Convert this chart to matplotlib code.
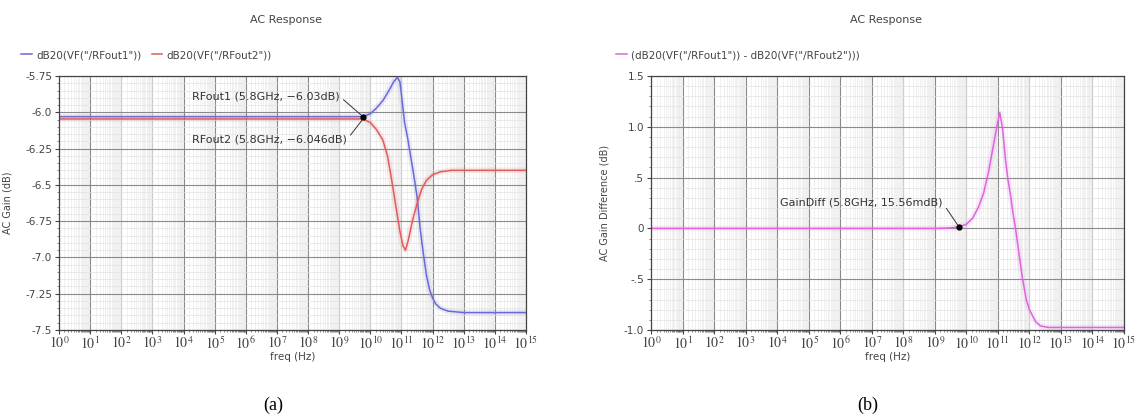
import numpy as np
import matplotlib
matplotlib.use('Agg')
import matplotlib.pyplot as plt
from matplotlib.ticker import FixedLocator, FixedFormatter, MultipleLocator, NullFormatter

plt.rcParams['font.family'] = ['DejaVu Sans']
plt.rcParams['mathtext.fontset'] = 'stix'

# ---- data (x given as log10 of frequency) ----
rf1_logf = [0, 9.0, 9.5, 9.76, 10.0, 10.2, 10.4, 10.6, 10.75, 10.87, 10.95, 11.0,
            11.1, 11.2, 11.3, 11.4, 11.5, 11.6, 11.7, 11.8, 11.9, 12.0, 12.1,
            12.25, 12.5, 13.0, 15.0]
rf1_db = [-6.03, -6.03, -6.03, -6.03, -6.01, -5.97, -5.92, -5.85, -5.79, -5.76, -5.79, -5.88,
          -6.07, -6.18, -6.31, -6.44, -6.58, -6.8, -6.97, -7.12, -7.22, -7.28, -7.32,
          -7.35, -7.37, -7.38, -7.38]

rf2_logf = [0, 9.5, 9.76, 10.0, 10.2, 10.4, 10.55, 10.65, 10.8, 10.95, 11.05, 11.13,
            11.22, 11.35, 11.5, 11.65, 11.8, 12.0, 12.25, 12.6, 15.0]
rf2_db = [-6.046, -6.046, -6.046, -6.07, -6.12, -6.19, -6.3, -6.42, -6.62, -6.82, -6.92, -6.95,
          -6.88, -6.75, -6.63, -6.53, -6.47, -6.43, -6.41, -6.40, -6.40]

diff_logf = [0, 9.0, 9.5, 9.76, 10.0, 10.2, 10.4, 10.55, 10.7, 10.86, 10.98, 11.06,
             11.15, 11.24, 11.32, 11.4, 11.48, 11.56, 11.67, 11.78, 11.9, 12.0, 12.1,
             12.2, 12.35, 12.6, 13.0, 15.0]
diff_db = [0.0, 0.0, 0.005, 0.0156, 0.04, 0.1, 0.22, 0.35, 0.55, 0.82, 1.02, 1.14,
           0.98, 0.68, 0.48, 0.33, 0.15, 0.0, -0.25, -0.49, -0.7, -0.8, -0.86,
           -0.92, -0.96, -0.975, -0.975, -0.975]

marker_f = 5.8e9
rf1_mark = -6.03
rf2_mark = -6.046
diff_mark = 0.01556

decades = np.arange(0, 16)
xtick_labels = [r'$10^{%d}$' % d for d in decades]
left_yticks = [-5.75, -6.0, -6.25, -6.5, -6.75, -7.0, -7.25, -7.5]
left_ylabels = ['-5.75', '-6.0', '-6.25', '-6.5', '-6.75', '-7.0', '-7.25', '-7.5']
right_yticks = [1.5, 1.0, 0.5, 0.0, -0.5, -1.0]
right_ylabels = ['1.5', '1.0', '.5', '0', '-.5', '-1.0']

W, H = 1141, 416
fig = plt.figure(figsize=(W / 100, H / 100), dpi=100)
TXT = '#444444'


def px_axes(x0, x1, ytop, ybot):
    return fig.add_axes([x0 / W, 1 - ybot / H, (x1 - x0) / W, (ybot - ytop) / H])


def style_axes(ax, yticks, ylabels, yminor):
    ax.set_xscale('log')
    ax.set_xlim(1, 1e15)
    ax.set_ylim(min(yticks), max(yticks))
    ax.xaxis.set_major_locator(FixedLocator(10.0 ** decades))
    ax.xaxis.set_major_formatter(FixedFormatter(xtick_labels))
    minor = [10.0 ** d * s for d in decades[:-1] for s in np.arange(1.5, 10, 0.5)]
    ax.xaxis.set_minor_locator(FixedLocator(minor))
    ax.xaxis.set_minor_formatter(NullFormatter())
    ax.yaxis.set_major_locator(FixedLocator(yticks))
    ax.yaxis.set_major_formatter(FixedFormatter(ylabels))
    ax.yaxis.set_minor_locator(MultipleLocator(yminor))
    ax.yaxis.set_minor_formatter(NullFormatter())
    ax.set_axisbelow(True)
    ax.grid(which='major', color='#8a8a8a', lw=0.8)
    ax.grid(which='minor', axis='x', color='#ebebeb', lw=0.5)
    ax.grid(which='minor', axis='y', color='#e2e2e2', lw=0.5)
    ax.tick_params(which='major', direction='out', length=3, width=0.8,
                   colors=TXT, labelsize=7.5, pad=2)
    ax.tick_params(which='minor', direction='out', length=1.5, width=0.5, colors='#555555')
    ax.tick_params(axis='x', which='major', labelsize=10, pad=1)
    for s in ax.spines.values():
        s.set_color(TXT)
        s.set_linewidth(0.9)
    ax.set_xlabel('freq (Hz)', fontsize=7.5, color=TXT, labelpad=0)


def curve(ax, logf, vals, color, label):
    f = 10.0 ** np.array(logf)
    ax.plot(f, vals, color=color, lw=4, alpha=0.13, solid_capstyle='butt')
    return ax.plot(f, vals, color=color, lw=1.1, label=label)[0]


# ---- (a) ----
ax1 = px_axes(59, 526, 76, 330)
style_axes(ax1, left_yticks, left_ylabels, 0.05)
l1 = curve(ax1, rf1_logf, rf1_db, '#6a6ad6', 'dB20(VF("/RFout1"))')
l2 = curve(ax1, rf2_logf, rf2_db, '#e05c5c', 'dB20(VF("/RFout2"))')
ax1.plot(marker_f, rf1_mark, 'o', color='k', ms=3.5, zorder=6)
ax1.set_ylabel('AC Gain (dB)', fontsize=7, color=TXT)
ax1.yaxis.set_label_coords(-0.1, 0.5)
arrow = dict(arrowstyle='-', color='#333333', lw=0.7, shrinkA=1, shrinkB=1, relpos=(1, 0.5))
ax1.annotate('RFout1 (5.8GHz, \u22126.03dB)', xy=(marker_f, rf1_mark),
             xytext=(10 ** 4.27, -5.89), fontsize=8, color='#333333',
             va='center', ha='left', arrowprops=arrow)
ax1.annotate('RFout2 (5.8GHz, \u22126.046dB)', xy=(marker_f, rf2_mark),
             xytext=(10 ** 4.27, -6.19), fontsize=8, color='#333333',
             va='center', ha='left', arrowprops=arrow)
fig.legend(handles=[l1, l2], loc='center left', bbox_to_anchor=(12 / W, 1 - 55 / H),
           ncol=2, frameon=False, fontsize=7.5, handlelength=1.0, handletextpad=0.4,
           columnspacing=1.0, labelcolor=TXT)
fig.text(286 / W, 1 - 20 / H, 'AC Response', ha='center', va='center',
         fontsize=8, color=TXT)
fig.text(273 / W, 1 - 405 / H, '(a)', ha='center', va='center',
         fontsize=13, family='Liberation Serif')

# ---- (b) ----
ax2 = px_axes(651, 1124, 76, 330)
style_axes(ax2, right_yticks, right_ylabels, 0.1)
l3 = curve(ax2, diff_logf, diff_db, '#dd66dd',
           '(dB20(VF("/RFout1")) - dB20(VF("/RFout2")))')
ax2.plot(marker_f, diff_mark, 'o', color='k', ms=3.5, zorder=6)
ax2.set_ylabel('AC Gain Difference (dB)', fontsize=7, color=TXT)
ax2.yaxis.set_label_coords(-0.087, 0.5)
ax2.annotate('GainDiff (5.8GHz, 15.56mdB)', xy=(marker_f, diff_mark),
             xytext=(10 ** 4.1, 0.25), fontsize=8, color='#333333',
             va='center', ha='left', arrowprops=arrow)
fig.legend(handles=[l3], loc='center left', bbox_to_anchor=(607 / W, 1 - 55 / H),
           frameon=False, fontsize=7.5, handlelength=1.0, handletextpad=0.4,
           labelcolor=TXT)
fig.text(886 / W, 1 - 20 / H, 'AC Response', ha='center', va='center',
         fontsize=8, color=TXT)
fig.text(868 / W, 1 - 405 / H, '(b)', ha='center', va='center',
         fontsize=13, family='Liberation Serif')

fig.savefig('out.png', dpi=100)
